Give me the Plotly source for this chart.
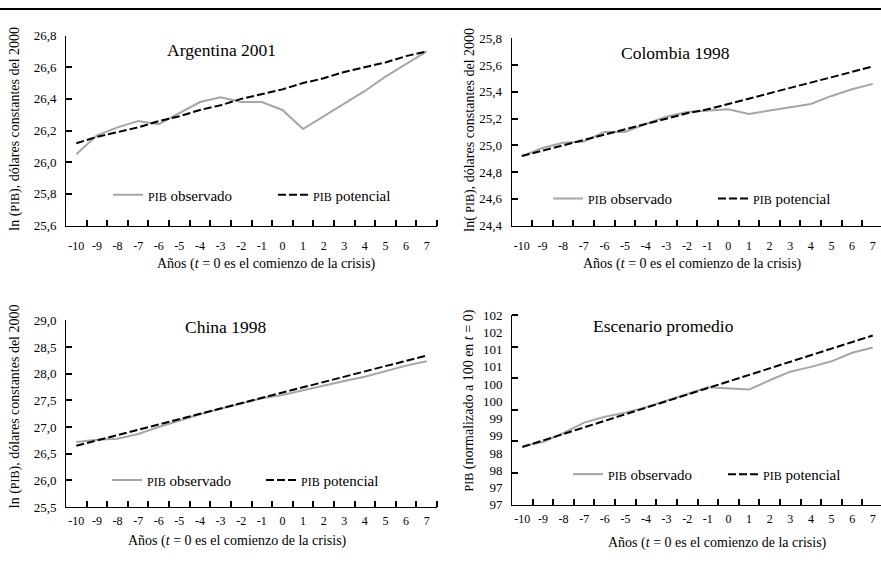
import plotly.graph_objects as go

# ---------------- data ----------------
years = [-10, -9, -8, -7, -6, -5, -4, -3, -2, -1, 0, 1, 2, 3, 4, 5, 6, 7]
year_labels = ["-10", "-9", "-8", "-7", "-6", "-5", "-4", "-3", "-2", "-1",
               "0", "1", "2", "3", "4", "5", "6", "7"]

arg_obs = [26.05, 26.17, 26.22, 26.26, 26.24, 26.31, 26.38, 26.41, 26.38, 26.38,
           26.33, 26.21, 26.29, 26.37, 26.45, 26.54, 26.62, 26.70]
arg_pot = [26.12, 26.16, 26.19, 26.22, 26.26, 26.29, 26.33, 26.36, 26.40, 26.43,
           26.46, 26.50, 26.53, 26.57, 26.60, 26.63, 26.67, 26.70]

col_obs = [24.92, 24.98, 25.02, 25.03, 25.10, 25.10, 25.16, 25.215, 25.25, 25.26,
           25.27, 25.235, 25.26, 25.285, 25.31, 25.37, 25.42, 25.46]
col_pot = [24.92, 24.96, 25.00, 25.04, 25.08, 25.12, 25.16, 25.20, 25.24, 25.27,
           25.31, 25.35, 25.39, 25.43, 25.47, 25.51, 25.55, 25.59]

chn_obs = [26.72, 26.76, 26.78, 26.87, 27.00, 27.12, 27.24, 27.34, 27.44, 27.54,
           27.60, 27.69, 27.78, 27.86, 27.94, 28.05, 28.15, 28.23]
chn_pot = [26.65, 26.75, 26.85, 26.95, 27.05, 27.15, 27.25, 27.35, 27.45, 27.55,
           27.65, 27.75, 27.85, 27.95, 28.05, 28.14, 28.24, 28.34]

esc_obs = [98.20, 98.32, 98.58, 98.88, 99.05, 99.17, 99.33, 99.51, 99.71, 99.91,
           99.88, 99.84, 100.11, 100.36, 100.50, 100.66, 100.91, 101.06]
esc_pot = [98.17, 98.36, 98.55, 98.74, 98.93, 99.12, 99.31, 99.50, 99.70, 99.89,
           100.08, 100.27, 100.46, 100.65, 100.84, 101.03, 101.22, 101.41]

# tick labels of the "Escenario promedio" panel (as printed)
esc_tickvals = [96.5, 97.0, 97.5, 98.0, 98.5, 99.0, 99.5, 100.0, 100.5, 101.0, 101.5, 102.0]
esc_ticktext = ["97", "97", "98", "98", "99", "99", "100", "100", "101", "101", "102", "102"]
esc_tickmarks = [97.4167, 98.3333, 99.25, 100.1667, 101.0833, 101.999]

# x tick marks sit on the category boundaries
x_tickmarks = [-9.5, -8.5, -7.5, -6.5, -5.5, -4.5, -3.5, -2.5, -1.5, -0.5,
               0.5, 1.5, 2.5, 3.5, 4.5, 5.5, 6.5, 7.499]

titles = ["Argentina 2001", "Colombia 1998", "China 1998", "Escenario promedio"]
obs_name = "<span style='font-size:12px'>PIB</span> observado"
pot_name = "<span style='font-size:12px'>PIB</span> potencial"

# ---------------- layout helpers ----------------
W, H = 881, 572
FONT = "Liberation Serif"
GRAY = "#a6a6a6"
TICKC = "black"


def fx(x):
    return x / W


def fy(y):
    return 1 - y / H


panels = [
    dict(obs=arg_obs, pot=arg_pot, xd=(66, 437), yd=(29.3, 224.5), xr=[-10.5, 7.5],
         yr=[25.6, 26.8], dtick=0.2, tf=".1f", title_xy=(221, 44), xstand=9,
         ytitle="ln (<span style='font-size:12px'>PIB</span>), dólares constantes del 2000",
         ytx=(15, 125), xtx=(266, 264), leg=[(148, 193), (313, 193)]),
    dict(obs=col_obs, pot=col_pot, xd=(511.5, 881), yd=(32.3, 224.5), xr=[-10.5, 7.4],
         yr=[24.4, 25.8], dtick=0.2, tf=".1f", title_xy=(675, 47), xstand=9,
         ytitle="ln( <span style='font-size:12px'>PIB</span>), dólares constantes del 2000",
         ytx=(470, 126), xtx=(692, 264), leg=[(588, 197), (753, 197)]),
    dict(obs=chn_obs, pot=chn_pot, xd=(66, 437), yd=(321.7, 513.5), xr=[-10.5, 7.5],
         yr=[25.5, 29.0], dtick=0.5, tf=".1f", title_xy=(225, 329), xstand=3,
         ytitle="ln (<span style='font-size:12px'>PIB</span>), dólares constantes del 2000",
         ytx=(15, 410), xtx=(237, 548), leg=[(147, 486), (301, 486)]),
    dict(obs=esc_obs, pot=esc_pot, xd=(512, 881), yd=(316.5, 511), xr=[-10.5, 7.4],
         yr=[96.5, 102.0], dtick=None, tf=None, title_xy=(663, 328), xstand=3,
         ytitle="<span style='font-size:12px'>PIB</span> (normalizado a 100 en <i>t</i> = 0)",
         ytx=(469, 404), xtx=(717, 550), leg=[(608, 480), (763, 480)]),
]

fig = go.Figure()
annotations = []
layout = dict(
    width=W, height=H, autosize=False,
    margin=dict(l=0, r=0, t=0, b=0),
    paper_bgcolor="white", plot_bgcolor="white",
    separators=",.",
    font=dict(family=FONT, color="black"),
)

for i, p in enumerate(panels, start=1):
    sfx = "" if i == 1 else str(i)
    xa, ya = "x" + sfx, "y" + sfx
    leg_a = "legend" if i == 1 else f"legend{2 * i - 1}"
    leg_b = f"legend{2 * i}"

    fig.add_trace(go.Scatter(
        x=years, y=p["obs"], xaxis=xa, yaxis=ya, mode="lines", name=obs_name,
        line=dict(color=GRAY, width=2), legend=leg_a, showlegend=True))
    fig.add_trace(go.Scatter(
        x=years, y=p["pot"], xaxis=xa, yaxis=ya, mode="lines", name=pot_name,
        line=dict(color="black", width=2, dash="8px,3px"), legend=leg_b, showlegend=True))

    for key, (tx, ty) in zip([leg_a, leg_b], p["leg"]):
        layout[key] = dict(
            x=fx(tx - 40), y=fy(ty), xanchor="left", yanchor="middle",
            orientation="h", bgcolor="rgba(0,0,0,0)", borderwidth=0,
            font=dict(family=FONT, size=15, color="black"),
        )

    layout["xaxis" + sfx] = dict(
        type="linear", domain=[fx(p["xd"][0]), fx(p["xd"][1])], anchor=ya,
        range=p["xr"], tickmode="array", tickvals=years, ticktext=year_labels,
        ticks="", tickangle=0, showline=True, linecolor="black",
        linewidth=1, showgrid=False, zeroline=False,
        tickfont=dict(family=FONT, size=12, color="black"),
        ticklabelstandoff=p["xstand"],
        minor=dict(tickmode="array", tickvals=x_tickmarks, ticks="inside",
                   ticklen=6, tickcolor=TICKC, tickwidth=1.5, showgrid=False),
    )
    ydict = dict(
        domain=[fy(p["yd"][1]), fy(p["yd"][0])], anchor=xa, range=p["yr"],
        showline=True, linecolor="black", linewidth=1, showgrid=False,
        zeroline=False, tickfont=dict(family=FONT, size=13, color="black"),
        ticklabelstandoff=6,
    )
    if p["dtick"] is not None:
        ydict.update(tickmode="linear", tick0=p["yr"][0], dtick=p["dtick"],
                     tickformat=p["tf"], ticks="inside", ticklen=6,
                     tickcolor=TICKC, tickwidth=1.5)
    else:
        ydict.update(tickmode="array", tickvals=esc_tickvals, ticktext=esc_ticktext,
                     ticks="",
                     minor=dict(tickmode="array", tickvals=esc_tickmarks,
                                ticks="inside", ticklen=6, tickcolor=TICKC,
                                tickwidth=1.5, showgrid=False))
    layout["yaxis" + sfx] = ydict

    annotations.append(dict(
        text=titles[i - 1], x=fx(p["title_xy"][0]), y=fy(p["title_xy"][1]),
        xref="paper", yref="paper", showarrow=False, xanchor="center",
        yanchor="middle", font=dict(family=FONT, size=17.5, color="black")))
    annotations.append(dict(
        text=p["ytitle"], x=fx(p["ytx"][0]), y=fy(p["ytx"][1]), textangle=-90,
        xref="paper", yref="paper", showarrow=False, xanchor="center",
        yanchor="middle", font=dict(family=FONT, size=14, color="black")))
    annotations.append(dict(
        text="Años (<i>t</i> = 0 es el comienzo de la crisis)",
        x=fx(p["xtx"][0]), y=fy(p["xtx"][1]),
        xref="paper", yref="paper", showarrow=False, xanchor="center",
        yanchor="middle", font=dict(family=FONT, size=14, color="black")))

layout["annotations"] = annotations
layout["shapes"] = [dict(type="line", xref="paper", yref="paper", x0=0, x1=1,
                         y0=fy(2), y1=fy(2), line=dict(color="black", width=2))]

fig.update_layout(**layout)

page_fix = (
    "document.documentElement.style.margin='0px';"
    "document.documentElement.style.overflow='hidden';"
    "document.body.style.margin='0px';"
    "document.body.style.padding='0px';"
    "document.body.style.overflow='hidden';"
    "var gd=document.getElementById('{plot_id}');"
    "gd.style.position='absolute';gd.style.left='0px';gd.style.top='0px';"
)
fig.write_html("out.html", config={"displayModeBar": False, "responsive": False},
               post_script=page_fix)
